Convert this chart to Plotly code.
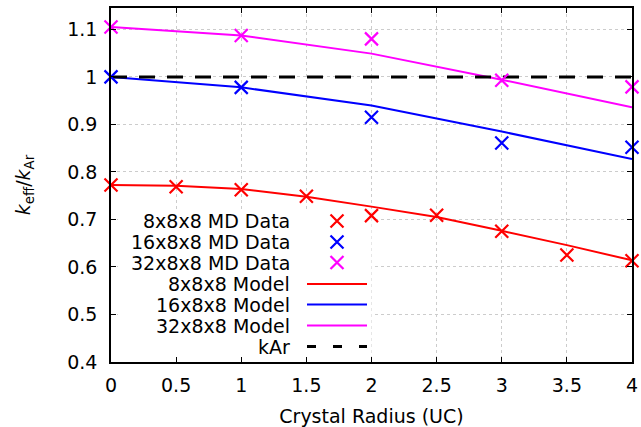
import plotly.graph_objects as go

# ---- data ----
x_md_red = [0, 0.5, 1, 1.5, 2, 2.5, 3, 3.5, 4]
y_md_red = [0.7725, 0.769, 0.7625, 0.749, 0.708, 0.709, 0.675, 0.625, 0.613]
x_md_bm = [0, 1, 2, 3, 4]
y_md_blue = [1.0, 0.978, 0.915, 0.861, 0.852]
y_md_mag = [1.105, 1.087, 1.080, 0.993, 0.979]

x_model_red = [0, 0.5, 1, 1.5, 2, 2.5, 3, 3.5, 4]
y_model_red = [0.7725, 0.771, 0.764, 0.748, 0.727, 0.705, 0.676, 0.646, 0.614]
x_model_bm = [0, 1, 2, 3, 4]
y_model_blue = [1.0, 0.978, 0.940, 0.885, 0.827]
y_model_mag = [1.105, 1.087, 1.049, 0.994, 0.936]

x_kar = [0, 4]
y_kar = [1.0, 1.0]

legend_labels = ["8x8x8 MD Data", "16x8x8 MD Data", "32x8x8 MD Data",
                 "8x8x8 Model", "16x8x8 Model", "32x8x8 Model", "kAr"]

RED, BLUE, MAG = "#ff0000", "#0000ff", "#ff00ff"
FONT = "DejaVu Sans"
FS = 19

fig = go.Figure()

# model lines
for xs, ys, c in [(x_model_red, y_model_red, RED), (x_model_bm, y_model_blue, BLUE),
                  (x_model_bm, y_model_mag, MAG)]:
    fig.add_trace(go.Scatter(x=xs, y=ys, mode="lines", line=dict(color=c, width=2),
                             showlegend=False))
# kAr
fig.add_trace(go.Scatter(x=x_kar, y=y_kar, mode="lines",
                         line=dict(color="black", width=3, dash="16px,12px"),
                         showlegend=False))
# MD data
for xs, ys, c in [(x_md_red, y_md_red, RED), (x_md_bm, y_md_blue, BLUE),
                  (x_md_bm, y_md_mag, MAG)]:
    fig.add_trace(go.Scatter(x=xs, y=ys, mode="markers",
                             marker=dict(symbol="x-thin", size=13,
                                         line=dict(color=c, width=2.2)),
                             showlegend=False, cliponaxis=False))

# ---- manual legend on an overlay pixel-like axis ----
row_y = [221, 242, 262.5, 284, 304.5, 325.5, 346.5]
text_right = 292
mark_x = 337
line_x = [307, 367]
colors = [RED, BLUE, MAG, RED, BLUE, MAG, "black"]
for i, lab in enumerate(legend_labels):
    fig.add_annotation(x=text_right, y=row_y[i], xref="x2", yref="y2", text=lab,
                       showarrow=False, xanchor="right", yanchor="middle",
                       font=dict(family=FONT, size=FS, color="black"))
    if i < 3:
        fig.add_trace(go.Scatter(x=[mark_x], y=[row_y[i]], xaxis="x2", yaxis="y2",
                                 mode="markers", showlegend=False,
                                 marker=dict(symbol="x-thin", size=13,
                                             line=dict(color=colors[i], width=2.2))))
    elif i < 6:
        fig.add_trace(go.Scatter(x=line_x, y=[row_y[i]] * 2, xaxis="x2", yaxis="y2",
                                 mode="lines", showlegend=False,
                                 line=dict(color=colors[i], width=2)))
    else:
        fig.add_trace(go.Scatter(x=line_x, y=[row_y[i]] * 2, xaxis="x2", yaxis="y2",
                                 mode="lines", showlegend=False,
                                 line=dict(color="black", width=3, dash="9px,17px")))

# white legend box (in main data coordinates), between grid and traces
fig.add_shape(type="rect", xref="x", yref="y", x0=0.054, x1=2.0, y0=0.408, y1=0.722,
              fillcolor="white", line=dict(width=0), layer="between")

axis_common = dict(showline=True, linecolor="black", linewidth=1.5, mirror="ticks",
                   ticks="inside", ticklen=5, tickwidth=1, tickcolor="black",
                   showgrid=True, gridcolor="#cccccc", griddash="dot", gridwidth=1,
                   zeroline=False, automargin=False,
                   tickfont=dict(family=FONT, size=FS, color="black"))

fig.update_layout(
    width=641, height=427,
    margin=dict(l=111, r=9, t=8, b=65),
    paper_bgcolor="white", plot_bgcolor="white",
    xaxis=dict(range=[0, 4], tickvals=[0, 0.5, 1, 1.5, 2, 2.5, 3, 3.5, 4],
               ticktext=["0", "0.5", "1", "1.5", "2", "2.5", "3", "3.5", "4"],
               title=dict(text="Crystal Radius (UC)", standoff=15,
                          font=dict(family=FONT, size=FS, color="black")),
               ticklabelstandoff=5,
               **axis_common),
    yaxis=dict(range=[0.4, 1.145], tickvals=[0.4, 0.5, 0.6, 0.7, 0.8, 0.9, 1.0, 1.1],
               ticktext=["0.4", "0.5", "0.6", "0.7", "0.8", "0.9", "1", "1.1"],
               title=dict(text="<i>k</i><sub>eff</sub>/<i>k</i><sub>Ar</sub>", standoff=32,
                          font=dict(family=FONT, size=FS, color="black")),
               ticklabelstandoff=8,
               **axis_common),
    xaxis2=dict(range=[111, 632], overlaying="x", anchor="y2", visible=False,
                fixedrange=True),
    yaxis2=dict(range=[362, 8], overlaying="y", anchor="x2", visible=False,
                fixedrange=True),
    showlegend=False,
)

fig.write_html("out.html", config={"displayModeBar": False},
               post_script="document.body.style.margin='0';document.body.style.overflow='hidden';")
